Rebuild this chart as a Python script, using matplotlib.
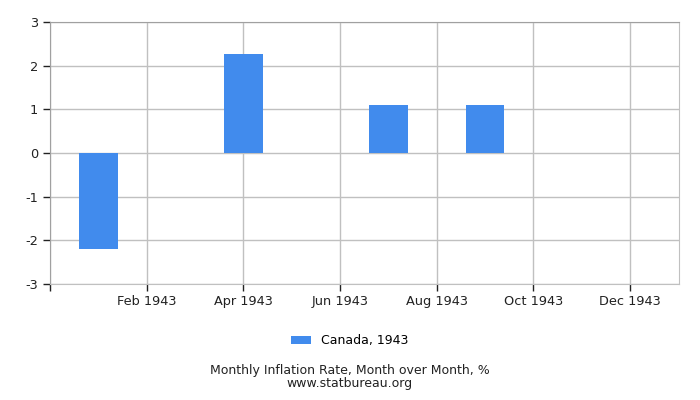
import matplotlib.pyplot as plt

months = ['Jan', 'Feb', 'Mar', 'Apr', 'May', 'Jun',
          'Jul', 'Aug', 'Sep', 'Oct', 'Nov', 'Dec']
rates = [-2.2, 0.0, 0.0, 2.27, 0.0, 0.0, 1.1, 0.0, 1.1, 0.0, 0.0, 0.0]
year = 1943
series_name = 'Canada, 1943'

plt.rcParams['axes.unicode_minus'] = False

fig = plt.figure(figsize=(7, 4), dpi=100)
ax = fig.add_axes([0.0714, 0.291, 0.8979, 0.653])

x = list(range(len(months)))
ax.bar(x, rates, width=0.8, color='#418bed', label=series_name, zorder=2)

ax.set_xlim(-1, 12)
ax.set_ylim(-3, 3)
ax.set_yticks(range(-3, 4))
tick_pos = [-1] + x[1::2]
ax.set_xticks(tick_pos)
ax.set_xticklabels([''] + ['%s %d' % (m, year) for m in months[1::2]])

ax.grid(True, color='#c0c0c0', linewidth=1, zorder=0)
for s in ax.spines.values():
    s.set_color('#c0c0c0')
ax.spines['top'].set_color('#a0a0a0')
ax.spines['left'].set_color('#a0a0a0')
ax.tick_params(axis='both', colors='#222222', labelsize=9.3, length=5, width=1)
ax.tick_params(axis='x', pad=3)

fig.legend(loc='center', bbox_to_anchor=(0.5, 0.148), frameon=False,
           fontsize=9, handlelength=1.6, handleheight=0.7)
fig.text(0.5, 0.057,
         'Monthly Inflation Rate, Month over Month, %\nwww.statbureau.org',
         ha='center', va='center', fontsize=9, color='#222222',
         linespacing=0.95)

fig.savefig('out.png')
